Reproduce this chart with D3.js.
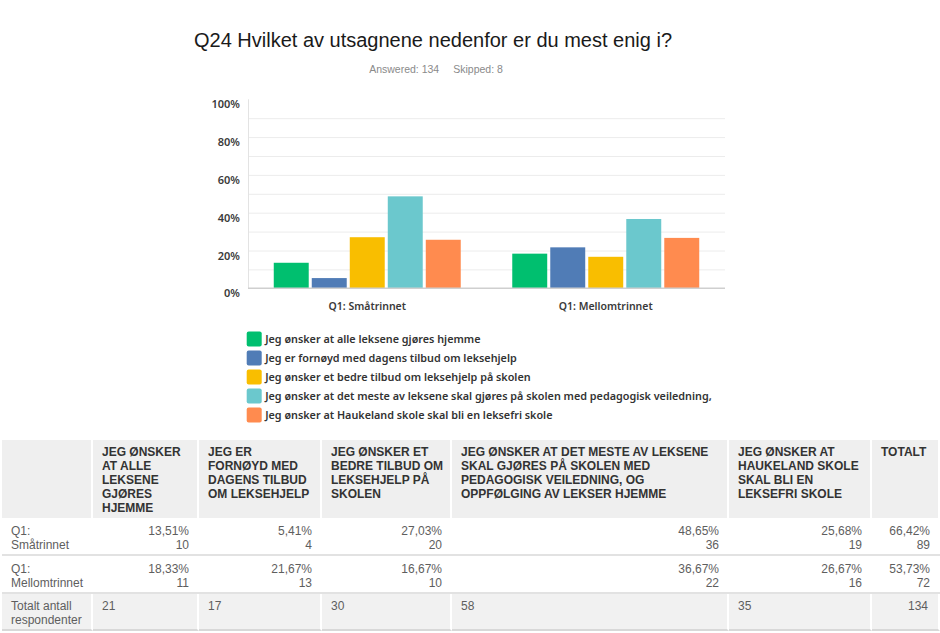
<!DOCTYPE html>
<html><head><meta charset="utf-8">
<script src="https://cdn.jsdelivr.net/npm/d3@7"></script>
<style>
body{margin:0;background:#fff;width:940px;height:633px;overflow:hidden;position:relative}
svg{position:absolute;left:0;top:0}
table.tbl{position:absolute;left:2px;top:440px;width:938px;border-collapse:separate;border-spacing:0;table-layout:fixed;font-family:"Liberation Sans",Arial,sans-serif;font-size:12px;}
table.tbl th{background:#efefef;color:#333;font-weight:bold;text-transform:uppercase;text-align:left;vertical-align:top;line-height:14px;padding:5px 9px 0 9px;border-right:2px solid #fff;}
table.tbl th.tight{padding-right:4px}
table.tbl td{color:#5e5e5e;line-height:13.5px;vertical-align:top;padding:7px 10px 0 9px;border-bottom:2px solid #e2e2e2;}
table.tbl td.num{text-align:right}
table.tbl tr.total td{background:#f1f1f1;border-right:2px solid #fff;padding-top:6px;border-bottom:2px solid #d8d8d8}
</style></head><body>
<script>
const title = "Q24 Hvilket av utsagnene nedenfor er du mest enig i?";
const answered = "Answered: 134";
const skipped = "Skipped: 8";
const groups = ["Q1: Småtrinnet", "Q1: Mellomtrinnet"];
const series = [
  "Jeg ønsker at alle leksene gjøres hjemme",
  "Jeg er fornøyd med dagens tilbud om leksehjelp",
  "Jeg ønsker et bedre tilbud om leksehjelp på skolen",
  "Jeg ønsker at det meste av leksene skal gjøres på skolen med pedagogisk veiledning, og oppfølging av lekser hjemme",
  "Jeg ønsker at Haukeland skole skal bli en leksefri skole"
];
const legendLabels = [
  "Jeg ønsker at alle leksene gjøres hjemme",
  "Jeg er fornøyd med dagens tilbud om leksehjelp",
  "Jeg ønsker et bedre tilbud om leksehjelp på skolen",
  "Jeg ønsker at det meste av leksene skal gjøres på skolen med pedagogisk veiledning,",
  "Jeg ønsker at Haukeland skole skal bli en leksefri skole"
];
const colors = ["#00bf6f", "#507cb6", "#f9be00", "#6bc8cd", "#ff8b4f"];
const pctSmaatrinnet = [13.51, 5.41, 27.03, 48.65, 25.68];
const pctMellomtrinnet = [18.33, 21.67, 16.67, 36.67, 26.67];
const nSmaatrinnet = [10, 4, 20, 36, 19];
const nMellomtrinnet = [11, 13, 10, 22, 16];
const rowTotalPct = [66.42, 53.73];
const rowTotalN = [89, 72];
const columnTotals = [21, 17, 30, 58, 35];
const grandTotal = 134;
const totalHeader = "Totalt";
const totalRowLabel = "Totalt antall respondenter";
const yTicks = [0, 20, 40, 60, 80, 100];
const yGrid = [10, 20, 30, 40, 50, 60, 70, 80, 90];

const pctValues = [pctSmaatrinnet, pctMellomtrinnet];
const nValues = [nSmaatrinnet, nMellomtrinnet];

const svg = d3.select("body").append("svg").attr("width", 940).attr("height", 440);

// title
svg.append("text").attr("x", 433).attr("y", 47).attr("text-anchor", "middle")
  .style("font-family", "'Liberation Sans', Arial, sans-serif").style("font-size", "20px").style("fill", "#1a1a1a")
  .text(title);
const sub = svg.append("text").attr("x", 436).attr("y", 73).attr("text-anchor", "middle")
  .style("font-family", "'Liberation Sans', Arial, sans-serif").style("font-size", "10.5px").style("fill", "#8a8a8a");
sub.append("tspan").text(answered);
sub.append("tspan").attr("dx", 14).text(skipped);

const pLeft = 248, pRight = 725, pTop = 99.3, pBottom = 288.3;
const x0 = d3.scaleBand().domain(groups).range([pLeft, pRight]).paddingInner(0.216).paddingOuter(0.108);
const x1 = d3.scaleBand().domain(d3.range(series.length)).range([0, x0.bandwidth()]).paddingInner(0.08);
const y = d3.scaleLinear().domain([0, 100]).range([pBottom, pTop]);

const labelFont = "'Noto Sans', sans-serif";

// grid
const grid = svg.append("g").attr("transform", `translate(${pLeft},0)`)
  .call(d3.axisLeft(y).tickValues(yGrid).tickSize(-(pRight - pLeft)).tickFormat(""));
grid.select(".domain").remove();
grid.selectAll("line").attr("stroke", "#ececec");

// vertical axis line
svg.append("line").attr("x1", pLeft + 0.5).attr("x2", pLeft + 0.5).attr("y1", y(100)).attr("y2", pBottom)
  .attr("stroke", "#e3e3e3");

// y axis labels
const yAx = svg.append("g").attr("transform", `translate(${pLeft},0)`)
  .call(d3.axisLeft(y).tickValues(yTicks).tickFormat(d => d + "%").tickSize(0).tickPadding(8));
yAx.select(".domain").remove();
yAx.selectAll("text").attr("y", 5).style("font-family", labelFont).style("font-size", "11px")
  .style("font-weight", 600).style("fill", "#3a3a3a");

// bars
const gGroups = svg.append("g").selectAll("g").data(groups).join("g")
  .attr("transform", d => `translate(${x0(d)},0)`);
gGroups.selectAll("rect").data((g, gi) => pctValues[gi].map((v, i) => ({i, v}))).join("rect")
  .attr("x", d => x1(d.i)).attr("width", x1.bandwidth())
  .attr("y", d => y(d.v)).attr("height", d => y(0) - y(d.v))
  .attr("fill", d => colors[d.i]);

// baseline
svg.append("line").attr("x1", pLeft).attr("x2", pRight).attr("y1", pBottom).attr("y2", pBottom)
  .attr("stroke", "#cfcfcf").attr("stroke-width", 1.5);

// x axis labels
const xAx = svg.append("g").attr("transform", `translate(0,${pBottom})`)
  .call(d3.axisBottom(x0).tickSize(0).tickPadding(14));
xAx.select(".domain").remove();
xAx.selectAll("text").style("font-family", labelFont).style("font-size", "10.5px")
  .style("font-weight", 600).style("fill", "#3a3a3a");

// legend
const leg = svg.append("g").attr("transform", "translate(246.7,339)");
const li = leg.selectAll("g").data(legendLabels).join("g").attr("transform", (d, i) => `translate(0,${i * 19})`);
li.append("rect").attr("x", 0).attr("y", -7.5).attr("width", 15).attr("height", 15).attr("rx", 2)
  .attr("fill", (d, i) => colors[i]);
li.append("text").attr("x", 18.5).attr("dy", "0.35em").text(d => d)
  .style("font-family", labelFont).style("font-size", "10.8px").style("font-weight", 600).style("fill", "#333");

// table
const fmtPct = v => v.toFixed(2).replace(".", ",") + "%";
const colWidths = [91, 106, 123, 130, 277, 143, 68];
const table = d3.select("body").append("table").attr("class", "tbl");
table.append("colgroup").selectAll("col").data(colWidths).join("col").style("width", d => d + "px");
const thead = table.append("thead").append("tr").style("height", "78px");
thead.selectAll("th").data(["", ...series, totalHeader]).join("th")
  .attr("class", (d, i) => i === 3 ? "tight" : null).text(d => d);
const tbody = table.append("tbody");
groups.forEach((g, gi) => {
  const tr = tbody.append("tr").style("height", "38px");
  tr.append("td").text(g);
  series.forEach((s, si) => {
    const td = tr.append("td").attr("class", "num");
    td.append("div").text(fmtPct(pctValues[gi][si]));
    td.append("div").text(nValues[gi][si]);
  });
  const td = tr.append("td").attr("class", "num");
  td.append("div").text(fmtPct(rowTotalPct[gi]));
  td.append("div").text(rowTotalN[gi]);
});
const tt = tbody.append("tr").attr("class", "total").style("height", "37px");
tt.append("td").text(totalRowLabel);
columnTotals.forEach(v => tt.append("td").text(v));
tt.append("td").attr("class", "num").text(grandTotal);
</script>
</body></html>
